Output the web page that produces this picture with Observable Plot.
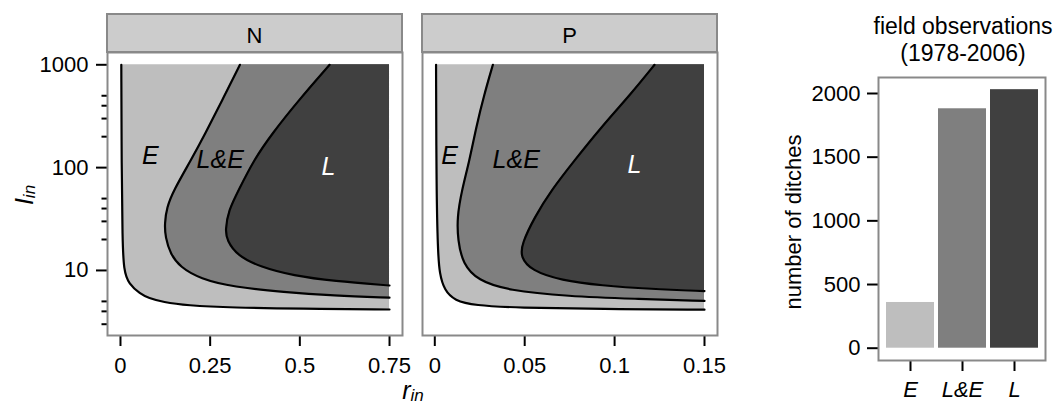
<!DOCTYPE html>
<html><head><meta charset="utf-8">
<script src="https://cdn.jsdelivr.net/npm/d3@7"></script>
<script src="https://cdn.jsdelivr.net/npm/@observablehq/plot@0.6"></script>
<style>
body{margin:0;background:#fff;font-family:'Liberation Sans',Arial,Helvetica,sans-serif;color:#000;}
#root{position:relative;width:1053px;height:406px;overflow:hidden;}
.abs{position:absolute;}
.strip{position:absolute;box-sizing:border-box;background:#cccccc;border:2px solid #898989;font-size:22px;text-align:center;line-height:35px;padding-top:3px;}
.lab{position:absolute;font-size:22px;line-height:22px;white-space:nowrap;}
.ttl{font-size:25px;line-height:16px;}
.ttl sub{font-size:17px;vertical-align:-2px;line-height:0;}
svg{overflow:visible;max-width:none!important;}
</style></head><body><div id="root"></div>
<script>
// ---------- data ----------
const regions = ["E", "L&E", "L"];
const regionFill = ["#bebebe", "#7f7f7f", "#404040"];

// N panel: region boundaries [r_in, I_in], from bottom-right end to top
const nLowerE = [[0.75,4.17],[0.501,4.25],[0.315,4.34],[0.183,4.57],[0.119,4.92],[0.078,5.4],[0.055,5.93],[0.023,7.4],[0.009,10],[0.0055,20],[0.0032,100],[0.0023,1000]];
const nLowerLE = [[0.75,5.43],[0.594,5.7],[0.455,6.15],[0.315,6.9],[0.222,8.3],[0.166,10.8],[0.139,14.5],[0.125,21.1],[0.123,28.5],[0.129,41],[0.148,60],[0.196,117.5],[0.236,213],[0.283,449],[0.333,1000]];
const nLowerL = [[0.75,7.14],[0.594,7.87],[0.482,8.9],[0.39,10.8],[0.325,14.0],[0.297,19.6],[0.292,24.5],[0.301,38.3],[0.329,60],[0.371,117.5],[0.422,213],[0.496,449],[0.583,1000]];

// P panel
const pLowerE = [[0.15,4.15],[0.0925,4.21],[0.046,4.34],[0.022,4.57],[0.011,5.1],[0.0054,6.4],[0.0026,9.3],[0.0017,15.6],[0.0009,60],[0.0007,1000]];
const pLowerLE = [[0.15,5.05],[0.111,5.3],[0.074,5.6],[0.0406,6.4],[0.0239,8.0],[0.0156,11.6],[0.0128,19.6],[0.0124,33],[0.015,60],[0.0193,117.5],[0.023,247],[0.0276,523],[0.0323,1000]];
const pLowerL = [[0.15,6.3],[0.12,6.6],[0.0925,7.14],[0.0703,8.0],[0.0536,10],[0.0477,13.5],[0.0484,18.2],[0.0555,33],[0.0647,60],[0.0777,117.5],[0.0925,247],[0.1092,523],[0.1222,1000]];

const nLabelX = [0.083, 0.278, 0.58];
const nLabelY = [131, 119, 101];
const pLabelX = [0.0082, 0.0453, 0.111];
const pLabelY = [131, 119, 105];

const nRange = [0, 0.75];
const pRange = [0, 0.15];
const nXTicks = [0, 0.25, 0.5, 0.75];
const pXTicks = [0, 0.05, 0.1, 0.15];
const yMajor = [10, 100, 1000];
const yMinor = [3, 4, 5, 20, 30, 40, 50, 200, 300, 400, 500];

const barCounts = [359, 1880, 2030];
const barTicks = [0, 500, 1000, 1500, 2000];

// ---------- drawing ----------
const FONT = "'Liberation Sans', Arial, Helvetica, sans-serif";
const root = document.getElementById("root");
function place(node, left, top) {
  const w = document.createElement("div");
  w.className = "abs"; w.style.left = left + "px"; w.style.top = top + "px";
  w.appendChild(node); root.appendChild(w);
}
const toPts = c => c.map(([x, y]) => ({x, y}));

function panel(o) {
  const xmax = o.range[1];
  const marks = [];
  o.curves.forEach((c, i) => marks.push(Plot.areaX(toPts(c), {
    y: "y", x1: "x", x2: () => xmax, fill: regionFill[i], curve: "basis"
  })));
  o.curves.forEach(c => marks.push(Plot.line(toPts(c), {
    x: "x", y: "y", stroke: "black", strokeWidth: 2.2, curve: "basis"
  })));
  const labs = regions.map((t, i) => ({t, x: o.lx[i], y: o.ly[i]}));
  marks.push(Plot.text(labs.filter(d => d.t !== "L"), {x: "x", y: "y", text: "t", fill: "black", fontStyle: "italic", fontSize: 25}));
  marks.push(Plot.text(labs.filter(d => d.t === "L"), {x: "x", y: "y", text: "t", fill: "white", fontStyle: "italic", fontSize: 25}));
  if (o.showY) {
    marks.push(Plot.axisY({ticks: yMajor, tickSize: 11, tickPadding: 8, strokeWidth: 2, tickFormat: d => String(d), label: null}));
    marks.push(Plot.axisY({ticks: yMinor, tickSize: 5.5, strokeWidth: 2, tickFormat: () => "", label: null}));
  }
  marks.push(Plot.axisX({ticks: o.xticks, tickSize: 11, tickPadding: 11, strokeWidth: 2, tickFormat: d => String(d), label: null}));
  marks.push(Plot.frame({stroke: "#898989", strokeWidth: 2}));
  return Plot.plot({
    width: o.width, height: 406,
    marginLeft: o.ml, marginRight: 8, marginTop: 52, marginBottom: 71,
    style: {fontSize: "22px", fontFamily: FONT, background: "transparent", overflow: "visible"},
    x: {domain: o.xdomain},
    y: {type: "log", domain: [2.33, 1317], axis: o.showY ? undefined : null},
    marks
  });
}

place(panel({curves: [nLowerE, nLowerLE, nLowerL], range: nRange, xdomain: [-0.0362, 0.7862],
  xticks: nXTicks, lx: nLabelX, ly: nLabelY, showY: true, width: 410, ml: 107}), 0, 0);
place(panel({curves: [pLowerE, pLowerLE, pLowerL], range: pRange, xdomain: [-0.00684, 0.15723],
  xticks: pXTicks, lx: pLabelX, ly: pLabelY, showY: false, width: 315, ml: 12}), 410, 0);

const bars = regions.map((c, i) => ({c, v: barCounts[i]}));
place(Plot.plot({
  width: 328, height: 406, marginLeft: 153, marginRight: 8, marginTop: 77, marginBottom: 46,
  style: {fontSize: "22px", fontFamily: FONT, background: "transparent", overflow: "visible"},
  x: {domain: regions, paddingInner: 0.08, paddingOuter: 0.12},
  y: {domain: [-96.6, 2125.6]},
  color: {domain: regions, range: regionFill},
  marks: [
    Plot.barY(bars, {x: "c", y: "v", fill: "c"}),
    Plot.axisY({ticks: barTicks, tickSize: 11, tickPadding: 7, strokeWidth: 2, tickFormat: d => String(d), label: null}),
    Plot.axisX({tickSize: 11, tickPadding: 10, strokeWidth: 2, fontStyle: "italic", label: null}),
    Plot.frame({stroke: "#898989", strokeWidth: 2})
  ]
}), 725, 0);

// strips and titles (HTML text)
function addDiv(cls, html, css) {
  const d = document.createElement("div");
  d.className = cls; d.innerHTML = html; Object.assign(d.style, css); root.appendChild(d);
}
addDiv("strip", "N", {left: "106px", top: "13px", width: "297px", height: "40px"});
addDiv("strip", "P", {left: "421px", top: "13px", width: "297px", height: "40px"});
addDiv("lab ttl", "<i>r</i><sub><i>in</i></sub>", {left: "413px", top: "382px", transform: "translateX(-50%)"});
addDiv("lab ttl", "<i>I</i><sub><i>in</i></sub>", {left: "24px", top: "195px", transform: "translate(-50%,-50%) rotate(-90deg)"});
addDiv("lab", "number of ditches", {left: "794px", top: "222px", transform: "translate(-50%,-50%) rotate(-90deg)"});
addDiv("lab", "field observations<br>(1978-2006)", {left: "963px", top: "13px", transform: "translateX(-50%)", textAlign: "center", lineHeight: "26.7px", fontSize: "23px"});
</script>
</body></html>
